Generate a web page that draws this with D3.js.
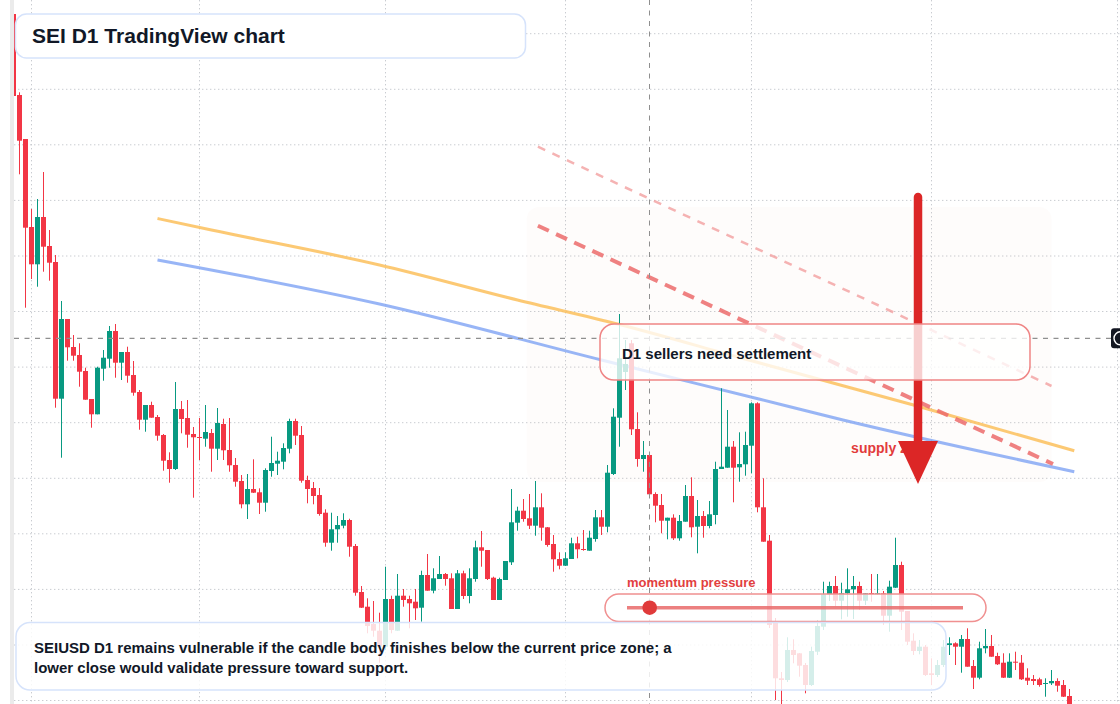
<!DOCTYPE html>
<html>
<head>
<meta charset="utf-8">
<script src="https://cdn.jsdelivr.net/npm/d3@7"></script>
<style>
  body { margin: 0; background: #fff; overflow: hidden; }
  svg { display: block; font-family: "Liberation Sans", Arial, Helvetica, sans-serif; }
</style>
</head>
<body>
<script>
// SEIUSD daily candles (index 0 = first visible day)
let open = [0.886,0.805,0.761,0.673,0.6357,0.683,0.654,0.638,0.5013,0.581,
  0.553,0.545,0.529,0.501,0.4857,0.5313,0.5413,0.569,0.5373,0.548,
  0.525,0.508,0.4803,0.495,0.483,0.465,0.44,0.431,0.491,0.482,
  0.466,0.463,0.4613,0.467,0.4513,0.476,0.45,0.435,0.419,0.3957,
  0.411,0.4077,0.3973,0.429,0.4363,0.4383,0.4513,0.479,0.465,0.42,
  0.412,0.405,0.3873,0.3573,0.3707,0.3743,0.38,0.354,0.308,0.2933,
  0.276,0.2693,0.2533,0.301,0.2693,0.3043,0.301,0.2983,0.2923,0.325,
  0.3093,0.321,0.326,0.3217,0.291,0.3267,0.304,0.321,0.3527,0.35,
  0.3223,0.3,0.32,0.3377,0.3773,0.3893,0.3817,0.3743,0.3927,0.3727,
  0.356,0.341,0.3343,0.341,0.3567,0.351,0.3493,0.361,0.3827,0.3733,
  0.426,0.4823,0.528,0.5567,0.471,0.441,0.445,0.406,0.395,0.3793,
  0.3823,0.3617,0.3783,0.404,0.3733,0.384,0.374,0.385,0.431,0.4323,
  0.4533,0.4327,0.4357,0.4543,0.4967,0.3927,0.3593,0.2783,0.2217,0.22,
  0.25,0.2467,0.235,0.215,0.2483,0.2733,0.3057,0.314,0.2993,0.3067,
  0.3107,0.314,0.2993,0.307,0.3057,0.3067,0.2843,0.3123,0.335,0.289,
  0.2593,0.249,0.2533,0.2267,0.225,0.235,0.255,0.2567,0.2533,0.261,
  0.234,0.2223,0.2517,0.254,0.244,0.2373,0.2223,0.2383,0.2373,0.2223,
  0.221,0.2207,0.2163,0.2167,0.219,0.215,0.204];

let high = [0.888,0.8077,0.761,0.691,0.701,0.728,0.67,0.645,0.599,0.581,
  0.565,0.5567,0.5323,0.501,0.5333,0.55,0.574,0.576,0.548,0.5533,
  0.539,0.51,0.495,0.4983,0.485,0.466,0.4477,0.518,0.499,0.5,
  0.473,0.482,0.495,0.471,0.492,0.4813,0.482,0.442,0.425,0.426,
  0.4407,0.4117,0.4317,0.4633,0.4483,0.4567,0.4813,0.4813,0.474,0.4243,
  0.418,0.412,0.3907,0.3873,0.384,0.3867,0.3813,0.356,0.314,0.3017,
  0.299,0.2873,0.3333,0.3043,0.326,0.311,0.3043,0.311,0.3293,0.346,
  0.3317,0.344,0.327,0.3267,0.33,0.3293,0.3317,0.3593,0.369,0.35,
  0.3233,0.3223,0.339,0.411,0.3933,0.401,0.406,0.419,0.4067,0.373,
  0.365,0.3477,0.3477,0.3623,0.3633,0.37,0.3693,0.39,0.39,0.435,
  0.4917,0.586,0.56,0.56,0.4877,0.459,0.446,0.4077,0.406,0.3823,
  0.3857,0.385,0.415,0.4227,0.4,0.389,0.399,0.4383,0.5117,0.49,
  0.459,0.4677,0.4683,0.4977,0.4977,0.4217,0.365,0.282,0.228,0.2627,
  0.2607,0.247,0.237,0.2533,0.28,0.3183,0.3183,0.324,0.3173,0.3317,
  0.324,0.3183,0.3067,0.326,0.326,0.309,0.3193,0.3623,0.3383,0.289,
  0.2667,0.26,0.255,0.2417,0.24,0.26,0.2627,0.2577,0.265,0.2717,
  0.24,0.2583,0.271,0.265,0.2473,0.2467,0.2467,0.2483,0.245,0.2317,
  0.225,0.2223,0.2217,0.23,0.2217,0.22,0.211];

let low = [0.802,0.7257,0.5923,0.621,0.6133,0.6283,0.6193,0.4923,0.4423,0.5393,
  0.5393,0.5133,0.5003,0.4723,0.4857,0.5193,0.5323,0.5223,0.52,0.5173,
  0.5043,0.4703,0.4683,0.4823,0.4593,0.4293,0.4173,0.43,0.4667,0.4523,
  0.4023,0.44,0.4533,0.4283,0.44,0.44,0.4283,0.4133,0.3917,0.381,
  0.407,0.386,0.3883,0.4233,0.425,0.4307,0.4467,0.455,0.4173,0.3967,
  0.3957,0.3843,0.3533,0.3493,0.3573,0.3717,0.3433,0.3043,0.292,0.2667,
  0.2633,0.2373,0.25,0.2667,0.269,0.2933,0.2717,0.28,0.2783,0.3093,
  0.3067,0.321,0.3143,0.291,0.291,0.301,0.2967,0.3183,0.3333,0.32,
  0.3,0.3,0.32,0.335,0.3693,0.3783,0.371,0.3643,0.3593,0.3533,
  0.3283,0.3307,0.334,0.341,0.3417,0.3493,0.3493,0.3583,0.365,0.3677,
  0.425,0.4533,0.51,0.465,0.4333,0.4283,0.4033,0.3777,0.3667,0.3607,
  0.36,0.3593,0.3783,0.3627,0.3467,0.3623,0.3717,0.3757,0.431,0.4323,
  0.3977,0.4183,0.4243,0.4267,0.3877,0.3583,0.272,0.2,0.196,0.218,
  0.2367,0.2233,0.2067,0.214,0.245,0.27,0.299,0.294,0.2807,0.2833,
  0.281,0.29,0.295,0.2983,0.305,0.275,0.2683,0.312,0.27,0.255,
  0.245,0.2457,0.224,0.215,0.223,0.233,0.245,0.235,0.2273,0.2333,
  0.211,0.2207,0.2467,0.2433,0.235,0.222,0.222,0.23,0.22,0.215,
  0.215,0.2133,0.2033,0.215,0.2083,0.203,0.192];

let close = [0.804,0.7593,0.6723,0.6357,0.683,0.6533,0.6373,0.5013,0.581,0.5527,
  0.5443,0.5283,0.5003,0.4857,0.5323,0.5423,0.569,0.5373,0.548,0.5243,
  0.5073,0.4803,0.495,0.4823,0.4643,0.4393,0.431,0.491,0.481,0.4653,
  0.4627,0.4623,0.468,0.4513,0.477,0.4497,0.4347,0.4183,0.3957,0.411,
  0.4073,0.3973,0.43,0.437,0.4393,0.452,0.479,0.4643,0.4193,0.411,
  0.404,0.386,0.3573,0.3707,0.375,0.38,0.3533,0.3073,0.2923,0.274,
  0.2693,0.2533,0.301,0.27,0.3043,0.3,0.2967,0.2917,0.325,0.3093,
  0.3217,0.326,0.321,0.291,0.3267,0.304,0.3217,0.3527,0.3493,0.321,
  0.3,0.321,0.339,0.3777,0.3893,0.381,0.3743,0.3927,0.3723,0.355,
  0.3407,0.3343,0.3417,0.3567,0.3507,0.3503,0.3623,0.3827,0.3733,0.4273,
  0.4833,0.5417,0.536,0.4707,0.441,0.445,0.4057,0.3943,0.3793,0.3823,
  0.3617,0.379,0.404,0.3727,0.384,0.374,0.3857,0.431,0.4333,0.4533,
  0.4323,0.436,0.455,0.4967,0.3927,0.3583,0.275,0.2217,0.22,0.25,
  0.245,0.2343,0.215,0.249,0.274,0.3057,0.314,0.2993,0.3067,0.3107,
  0.314,0.2993,0.3067,0.306,0.3067,0.2843,0.3133,0.335,0.2883,0.2583,
  0.249,0.2533,0.225,0.225,0.235,0.2533,0.2567,0.2533,0.261,0.2333,
  0.2223,0.2517,0.254,0.2433,0.2357,0.2223,0.2383,0.2377,0.2207,0.2193,
  0.219,0.215,0.217,0.219,0.2143,0.2033,0.194];

// month boundaries (candle index) and horizontal price grid
let monthStarts = [3, 31, 62, 92, 123, 153, 184];
let gridPrices = [0.8663,0.8107,0.7552,0.6996,0.644,0.5885,0.5329,0.4773,0.4217,0.3662,0.3106,0.255,0.1995];

// moving averages (index, price) read at a few points
let maSlowIdx = [24, 33, 61, 84, 101, 121, 150, 176.8];
let maSlowVal = [0.6815, 0.670, 0.635, 0.600, 0.5755, 0.5425, 0.495, 0.4493];
let maFastIdx = [24, 61, 98, 124.4, 138.25, 176.8];
let maFastVal = [0.640, 0.596, 0.540, 0.5007, 0.480, 0.4283];

// descending channel lines [startIdx, startPrice, endIdx, endPrice]
let trendMain = [87.4, 0.6743, 173.25, 0.436];
let trendUpper = [87.4, 0.7533, 173.0, 0.514];

// supply zone box and arrow
let zoneIdx = [85.55, 173.0];
let zonePrice = [0.693, 0.418];
let arrowIdx = 150.75;
let arrowPrice = [0.703, 0.459, 0.416];
let crossIdx = 106;
let crossPrice = 0.5617;

let W = 1120, H = 704;

let x = d3.scaleLinear().domain([0, 176]).range([13.5, 1069.5]);
let y = d3.scaleLinear().domain([0.9, 0.196]).range([0, 704]);

let svg = d3.select("body").append("svg").attr("width", W).attr("height", H);

svg.append("rect").attr("width", W).attr("height", H).attr("fill", "#fff");

// left pane border
svg.append("rect").attr("x", 10).attr("y", 0).attr("width", 4).attr("height", H).attr("fill", "#ebebeb");

svg.append("clipPath").attr("id", "pane")
  .append("rect").attr("x", 14).attr("y", 0).attr("width", W - 14).attr("height", H);

let pane = svg.append("g").attr("clip-path", "url(#pane)");

// grid
pane.selectAll(".hgrid").data(gridPrices).enter().append("line")
  .attr("x1", 14).attr("x2", W)
  .attr("y1", d => y(d)).attr("y2", d => y(d))
  .attr("stroke", "#c9ccd1").attr("stroke-width", 1).attr("stroke-dasharray", "1.4 2.6");
pane.selectAll(".vgrid").data(monthStarts).enter().append("line")
  .attr("x1", d => x(d)).attr("x2", d => x(d))
  .attr("y1", 0).attr("y2", H)
  .attr("stroke", "#c9ccd1").attr("stroke-width", 1).attr("stroke-dasharray", "1.4 2.6");

// supply zone
pane.append("rect")
  .attr("x", x(zoneIdx[0])).attr("y", y(zonePrice[0]))
  .attr("width", x(zoneIdx[1]) - x(zoneIdx[0]))
  .attr("height", y(zonePrice[1]) - y(zonePrice[0]))
  .attr("rx", 12)
  .attr("fill", "#e8745a").attr("fill-opacity", 0.022);

// moving averages
let maLine = d3.line().x(d => x(d[0])).y(d => y(d[1])).curve(d3.curveMonotoneX);
pane.append("path")
  .attr("d", maLine(d3.zip(maSlowIdx, maSlowVal)))
  .attr("fill", "none").attr("stroke", "#fbbf5c").attr("stroke-opacity", 0.85).attr("stroke-width", 3);
pane.append("path")
  .attr("d", maLine(d3.zip(maFastIdx, maFastVal)))
  .attr("fill", "none").attr("stroke", "#7ea2f4").attr("stroke-opacity", 0.8).attr("stroke-width", 3);

// channel lines
pane.append("line")
  .attr("x1", x(trendUpper[0])).attr("y1", y(trendUpper[1]))
  .attr("x2", x(trendUpper[2])).attr("y2", y(trendUpper[3]))
  .attr("stroke", "#f29a9a").attr("stroke-opacity", 0.75).attr("stroke-width", 2.5)
  .attr("stroke-dasharray", "8 8");
pane.append("line")
  .attr("x1", x(trendMain[0])).attr("y1", y(trendMain[1]))
  .attr("x2", x(trendMain[2])).attr("y2", y(trendMain[3]))
  .attr("stroke", "#ec6b6b").attr("stroke-opacity", 0.85).attr("stroke-width", 4)
  .attr("stroke-dasharray", "12 8");

// candles
let candles = d3.range(open.length).map(i => ({i: i, o: open[i], h: high[i], l: low[i], c: close[i]}));
let up = "#089981", down = "#f23645";
let cg = pane.append("g");
cg.selectAll(".wick").data(candles).enter().append("rect")
  .attr("x", d => x(d.i) - 0.5).attr("width", 1)
  .attr("y", d => y(d.h)).attr("height", d => Math.max(1, y(d.l) - y(d.h)))
  .attr("fill", d => d.c >= d.o ? up : down);
cg.selectAll(".body").data(candles).enter().append("rect")
  .attr("x", d => x(d.i) - 2.5).attr("width", 5)
  .attr("y", d => y(Math.max(d.o, d.c)))
  .attr("height", d => Math.max(1, Math.abs(y(d.o) - y(d.c))))
  .attr("fill", d => d.c >= d.o ? up : down);

// crosshair
pane.append("line")
  .attr("x1", x(crossIdx)).attr("x2", x(crossIdx)).attr("y1", 0).attr("y2", H)
  .attr("stroke", "#8f8f8f").attr("stroke-width", 1).attr("stroke-dasharray", "5 5.5");
pane.append("line")
  .attr("x1", 14).attr("x2", 1111).attr("y1", y(crossPrice)).attr("y2", y(crossPrice))
  .attr("stroke", "#8f8f8f").attr("stroke-width", 1.2).attr("stroke-dasharray", "5 5.5");

// supply zone label + arrow
svg.append("text").attr("x", x(139.6)).attr("y", 452.5)
  .attr("font-size", 14).attr("font-weight", "bold").attr("fill", "#e23b3b")
  .text("supply zone");

let ax = x(arrowIdx);
svg.append("line")
  .attr("x1", ax).attr("x2", ax).attr("y1", y(arrowPrice[0])).attr("y2", y(arrowPrice[1]) + 4)
  .attr("stroke", "#dc2626").attr("stroke-width", 8.5).attr("stroke-linecap", "round");
svg.append("path")
  .attr("d", "M" + (ax - 20) + "," + y(arrowPrice[1]) + "L" + (ax + 20) + "," + y(arrowPrice[1]) +
             "L" + ax + "," + y(arrowPrice[2]) + "Z")
  .attr("fill", "#dc2626");

// annotation: sellers
svg.append("rect").attr("x", 600).attr("y", 324).attr("width", 430).attr("height", 56).attr("rx", 14)
  .attr("fill", "#fff").attr("fill-opacity", 0.78)
  .attr("stroke", "#ef8585").attr("stroke-width", 1.5);
svg.append("text").attr("x", 622).attr("y", 359)
  .attr("font-size", 15).attr("font-weight", "bold").attr("fill", "#111827")
  .text("D1 sellers need settlement");

// momentum gauge
svg.append("text").attr("x", 627).attr("y", 587.3)
  .attr("font-size", 13).attr("font-weight", "bold").attr("fill", "#e2403f")
  .text("momentum pressure");
svg.append("rect").attr("x", 605).attr("y", 594).attr("width", 381).attr("height", 27.5).attr("rx", 13.75)
  .attr("fill", "#fff").attr("fill-opacity", 0.8)
  .attr("stroke", "#f09090").attr("stroke-width", 1.5);
svg.append("line").attr("x1", 627).attr("x2", 963).attr("y1", 607.7).attr("y2", 607.7)
  .attr("stroke", "#e96a6a").attr("stroke-opacity", 0.85).attr("stroke-width", 3.5);
svg.append("circle").attr("cx", 649.7).attr("cy", 607.7).attr("r", 7.3).attr("fill", "#e03a3a");

// bottom comment box
svg.append("rect").attr("x", 16).attr("y", 622.5).attr("width", 930).attr("height", 67.5).attr("rx", 14)
  .attr("fill", "#fff").attr("fill-opacity", 0.83)
  .attr("stroke", "#d6e3fb").attr("stroke-width", 1.5);
let note = svg.append("text").attr("font-size", 15).attr("font-weight", "bold").attr("fill", "#111827");
note.append("tspan").attr("x", 34).attr("y", 653.3)
  .text("SEIUSD D1 remains vulnerable if the candle body finishes below the current price zone; a");
note.append("tspan").attr("x", 34).attr("y", 673.3)
  .text("lower close would validate pressure toward support.");

// title box
svg.append("rect").attr("x", 15.5).attr("y", 14).attr("width", 510).attr("height", 44).attr("rx", 11)
  .attr("fill", "#fff").attr("stroke", "#d6e3fb").attr("stroke-width", 1.5);
svg.append("text").attr("x", 32).attr("y", 43.3)
  .attr("font-size", 21).attr("font-weight", "bold").attr("fill", "#111827")
  .text("SEI D1 TradingView chart");

// crosshair price tag on the right edge
svg.append("rect").attr("x", 1111).attr("y", y(crossPrice) - 10).attr("width", 16).attr("height", 20).attr("rx", 3)
  .attr("fill", "#131722");
svg.append("circle").attr("cx", 1120.5).attr("cy", y(crossPrice)).attr("r", 6.5)
  .attr("fill", "none").attr("stroke", "#fff").attr("stroke-width", 1.4);
</script>
</body>
</html>
